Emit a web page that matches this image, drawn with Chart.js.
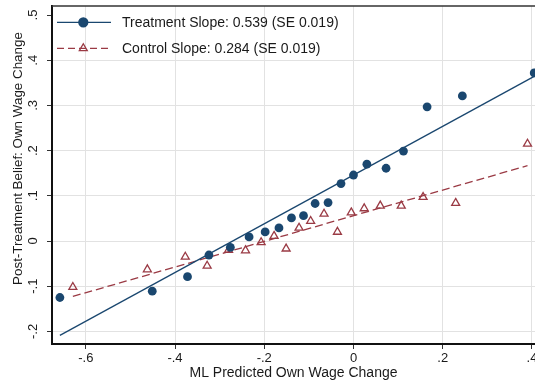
<!DOCTYPE html>
<html>
<head>
<meta charset="utf-8">
<script src="https://cdn.jsdelivr.net/npm/chart.js@4.4.1/dist/chart.umd.min.js"></script>
<style>
  html, body { margin: 0; padding: 0; background: #fff; }
</style>
</head>
<body>
<canvas id="chartA" width="535" height="385"></canvas>
<script>
// binned scatter: 20 bins per arm
const treatX = [-0.658, -0.451, -0.372, -0.324, -0.276, -0.234, -0.198, -0.167, -0.139, -0.112,
    -0.086, -0.057, -0.028, 0.000, 0.030, 0.073, 0.112, 0.165, 0.244, 0.405];
const treatY = [-0.125, -0.111, -0.079, -0.031, -0.014, 0.009, 0.020, 0.029, 0.051, 0.056,
    0.083, 0.085, 0.127, 0.146, 0.170, 0.161, 0.199, 0.297, 0.321, 0.372];
const controlX = [-0.629, -0.462, -0.377, -0.328, -0.280, -0.242, -0.207, -0.178, -0.151, -0.122,
    -0.096, -0.066, -0.036, -0.005, 0.024, 0.060, 0.107, 0.156, 0.229, 0.390];
const controlY = [-0.102, -0.063, -0.035, -0.055, -0.020, -0.021, -0.003, 0.011, -0.017, 0.029,
    0.044, 0.060, 0.020, 0.063, 0.072, 0.078, 0.078, 0.097, 0.084, 0.215];

// fitted lines
const slopes = [0.539, 0.284];
const intercepts = [0.146, 0.056];
const legendLabels = ['Treatment Slope: 0.539 (SE 0.019)', 'Control Slope: 0.284 (SE 0.019)'];

const xTicks = [-0.6, -0.4, -0.2, 0, 0.2, 0.4];
const xTickLabels = ['-.6', '-.4', '-.2', '0', '.2', '.4'];
const yTicks = [-0.2, -0.1, 0, 0.1, 0.2, 0.3, 0.4, 0.5];
const yTickLabels = ['-.2', '-.1', '0', '.1', '.2', '.3', '.4', '.5'];

const navy = '#1a476f';
const maroon = '#9a3a44';
const ink = '#1a1a1a';
const FONT = '"Liberation Sans", Arial, sans-serif';

function fitLine(xs, k) {
    const lo = Math.min(...xs), hi = Math.max(...xs);
    return [lo, hi].map(x => ({x: x, y: intercepts[k] + slopes[k] * x}));
}
const toPts = (xs, ys) => xs.map((x, i) => ({x: x, y: ys[i]}));

const data = {
    datasets: [{
        label: legendLabels[0],
        data: toPts(treatX, treatY),
        showLine: false,
        pointStyle: 'circle',
        pointRadius: 4.4,
        pointBackgroundColor: navy,
        pointBorderWidth: 0,
    }, {
        label: legendLabels[1],
        data: toPts(controlX, controlY),
        showLine: false,
        pointStyle: 'triangle',
        pointRadius: 4.6,
        pointBackgroundColor: 'rgba(0,0,0,0)',
        pointBorderColor: maroon,
        pointBorderWidth: 1.3,
    }, {
        data: fitLine(treatX, 0),
        showLine: true,
        borderColor: navy,
        borderWidth: 1.3,
        pointRadius: 0,
    }, {
        data: fitLine(controlX, 1),
        showLine: true,
        borderColor: maroon,
        borderWidth: 1.3,
        borderDash: [8, 4],
        pointRadius: 0,
    }],
};

// rotated y labels, y title, frame top, legend
const extras = {
    id: 'extras',
    afterDraw(chart) {
        const {ctx, chartArea: a, scales: {y}} = chart;
        ctx.save();
        ctx.strokeStyle = '#333';
        ctx.lineWidth = 1.5;
        ctx.beginPath();
        ctx.moveTo(a.left, a.top);
        ctx.lineTo(a.right, a.top);
        ctx.stroke();

        ctx.fillStyle = ink;
        ctx.textAlign = 'center';
        ctx.textBaseline = 'middle';
        ctx.font = '13px ' + FONT;
        yTicks.forEach((v, i) => {
            ctx.save();
            ctx.translate(33, y.getPixelForValue(v));
            ctx.rotate(-Math.PI / 2);
            ctx.fillText(yTickLabels[i], 0, 0);
            ctx.restore();
        });
        ctx.font = '13.4px ' + FONT;
        ctx.save();
        ctx.translate(18, 158.5);
        ctx.rotate(-Math.PI / 2);
        ctx.fillText('Post-Treatment Belief: Own Wage Change', 0, 0);
        ctx.restore();

        // legend keys
        const rows = [22.3, 48.3];
        const x0 = a.left + 5, x1 = a.left + 59, xm = a.left + 31.3;
        const ds = chart.data.datasets;
        rows.forEach((ry, i) => {
            ctx.save();
            ctx.lineWidth = 1.3;
            ctx.strokeStyle = i === 0 ? navy : maroon;
            if (i === 1) ctx.setLineDash([7, 4]);
            ctx.beginPath();
            ctx.moveTo(x0, ry);
            ctx.lineTo(x1, ry);
            ctx.stroke();
            ctx.restore();
            ctx.save();
            ctx.fillStyle = ds[i].pointBackgroundColor;
            ctx.strokeStyle = i === 0 ? navy : maroon;
            ctx.lineWidth = i === 0 ? 0 : 1.3;
            Chart.helpers.drawPoint(ctx, {
                pointStyle: ds[i].pointStyle,
                radius: ds[i].pointRadius,
                rotation: 0,
                borderWidth: ctx.lineWidth,
            }, xm, ry);
            ctx.restore();
            ctx.fillStyle = ink;
            ctx.textAlign = 'left';
            ctx.font = '14px ' + FONT;
            ctx.fillText(ds[i].label, a.left + 70, ry + 0.5);
        });
        ctx.restore();
    },
};

const config = {
    type: 'scatter',
    data: data,
    options: {
        responsive: false,
        animation: false,
        layout: {autoPadding: false, padding: {top: 6, right: 0, bottom: 0, left: 0}},
        plugins: {legend: {display: false}, tooltip: {enabled: false}},
        scales: {
            x: {
                type: 'linear',
                min: -0.6757,
                max: 0.4068,
                afterBuildTicks: s => { s.ticks = xTicks.map(v => ({value: v})); },
                afterFit: s => { s.height = 41; s.paddingLeft = 0; s.paddingRight = 0; },
                grid: {color: '#e2e2e2', lineWidth: 1, tickColor: '#333', tickLength: 5},
                border: {color: '#111', width: 2},
                ticks: {
                    color: ink,
                    font: {family: FONT, size: 13},
                    padding: 2,
                    maxRotation: 0,
                    autoSkip: false,
                    callback: (v, i) => xTickLabels[i],
                },
                title: {
                    display: true,
                    text: 'ML Predicted Own Wage Change',
                    color: ink,
                    font: {family: FONT, size: 14},
                    padding: {top: 0, bottom: 3.6},
                },
            },
            y: {
                type: 'linear',
                min: -0.2279,
                max: 0.520,
                afterBuildTicks: s => { s.ticks = yTicks.map(v => ({value: v})); },
                afterFit: s => { s.width = 52; s.paddingTop = 0; s.paddingBottom = 0; },
                grid: {
                    color: c => (c.tick && c.tick.value === 0.5 ? 'rgba(0,0,0,0)' : '#e2e2e2'),
                    lineWidth: 1,
                    tickColor: '#333',
                    tickLength: 5,
                },
                border: {color: '#111', width: 2},
                ticks: {display: false},
            },
        },
    },
    plugins: [extras],
};

const chartEle = document.getElementById('chartA').getContext('2d');
const chartA = new Chart(chartEle, config);
</script>
</body>
</html>
